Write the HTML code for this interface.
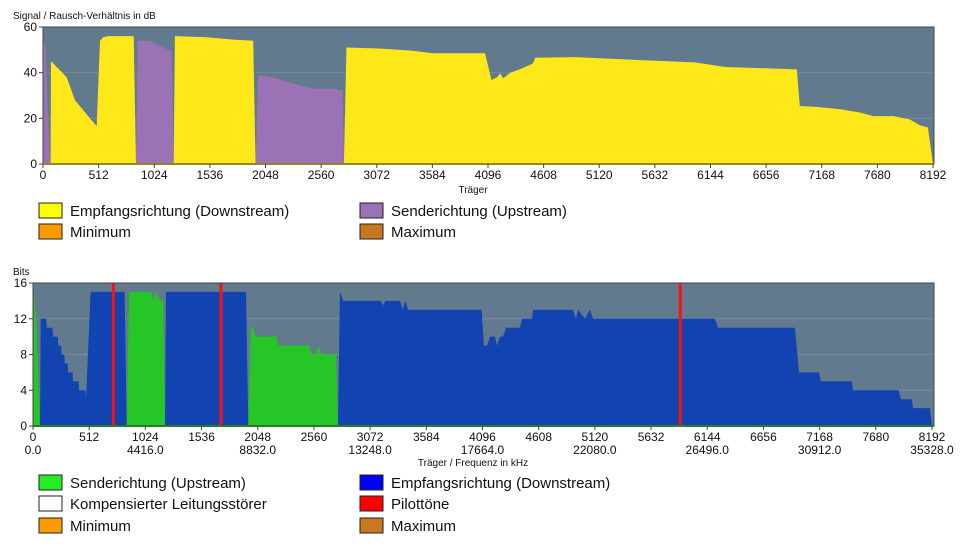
<!DOCTYPE html>
<html><head><meta charset="utf-8">
<style>
html,body{margin:0;padding:0;background:#fff;width:963px;height:548px;overflow:hidden;font-family:"Liberation Sans",sans-serif;}
svg text{font-family:"Liberation Sans",sans-serif;fill:#111;}
</style></head>
<body>
<svg id="c" width="963" height="548" xmlns="http://www.w3.org/2000/svg"></svg>
<script>
// ---- data (carrier, value) ----
const snrTicks = [0,20,40,60];
const xTicks = [0,512,1024,1536,2048,2560,3072,3584,4096,4608,5120,5632,6144,6656,7168,7680,8192];
const freqTicks = [0,1024,2048,3072,4096,5120,6144,7168,8192];
const bitsTicks = [0,4,8,12,16];
const snrUp = [[0,0],[2,54],[20,53],[64,0],[856,0],[872,54],[985,54],[1049,52.5],[1105,51],[1184,49.5],[1203,0],[1957,0],[1980,39],[2118,38],[2245,36],[2365,34.5],[2487,33],[2670,33],[2757,32],[2770,0]];
const snrDown = [[70,0],[74,45],[218,38],[294,28],[432,20],[494,16.5],[525,54],[552,55.5],[600,56],[835,56],[856,0],[1203,0],[1214,56],[1506,55.5],[1750,54.5],[1935,54],[1957,0],[2770,0],[2794,51],[3130,50.5],[3377,49.7],[3590,48.5],[4068,48.5],[4128,36.8],[4180,38],[4208,39.7],[4236,37.5],[4300,40],[4390,41.5],[4510,44],[4530,46.5],[4900,46.8],[5500,45.5],[6000,44.5],[6280,42.5],[6600,42],[6900,41.5],[6938,41.5],[6966,25.4],[7118,25],[7340,24],[7524,22.5],[7645,21],[7828,21],[7980,19.5],[8070,17],[8145,16],[8192,0]];
const bitsUp = [[0,0],[10,15],[30,12],[64,0],[854,0],[877,15],[1080,15],[1093,14],[1127,15],[1157,14],[1187,14],[1203,0],[1962,0],[1984,11],[2005,11],[2026,10],[2220,10],[2232,9],[2516,9],[2539,8],[2579,8],[2597,9],[2630,8],[2761,8],[2779,0]];
const bitsDown = [[64,0],[70,12],[120,12],[125,11],[178,11],[182,10],[226,10],[230,9],[256,9],[260,8],[286,8],[290,7],[316,7],[320,6],[361,6],[365,5],[416,5],[420,4],[478,4],[483,3],[525,15],[835,15],[854,0],[1203,0],[1212,15],[1941,15],[1962,0],[2779,0],[2797,15],[2828,14],[3168,14],[3192,13.5],[3210,14],[3344,14],[3371,13],[3390,14],[3420,13],[4088,13],[4109,9],[4137,9],[4164,10],[4210,10],[4228,9],[4255,10],[4283,10],[4310,11],[4438,11],[4456,12],[4547,12],[4556,13],[4920,13],[4948,12],[4966,13],[5030,12],[5075,13],[5103,12],[6214,12],[6242,11],[6943,11],[6980,6],[7162,6],[7180,5],[7463,5],[7472,4],[7890,4],[7909,3],[8010,3],[8019,2],[8174,2],[8192,0]];
const pilots = [732,1713,5898];

const NS='http://www.w3.org/2000/svg';
const svg=document.getElementById('c');
function mk(tag,attrs,parent){const e=document.createElementNS(NS,tag);for(const k in attrs)e.setAttribute(k,attrs[k]);(parent||svg).appendChild(e);return e;}
function txt(s,x,y,size,anchor,parent){const t=mk('text',{x:x,y:y,'font-size':size,'text-anchor':anchor||'start'},parent);t.textContent=s;return t;}

function chart(cfg){
  const g=mk('g',{});
  
  
  const L=cfg.L,R=cfg.R,T=cfg.T,B=cfg.B;
  const sx=v=>L+(v/8192)*(cfg.xEnd-L);
  const sy=v=>B-(v/cfg.ymax)*(B-T);
  const bg=mk('rect',{x:L,y:T,width:R-L,height:B-T,fill:'#627a8e'},g);
  
  
  cfg.yTicks.forEach(v=>{if(v>0&&v<cfg.ymax){const l=mk('line',{x1:L,x2:R,y1:sy(v),y2:sy(v),stroke:'#7589a0','stroke-width':1},g);
    
    }});
  cfg.series.forEach(s=>{
    let d='M'+sx(s.data[0][0])+','+sy(0);
    s.data.forEach(p=>{d+=' L'+sx(p[0]).toFixed(1)+','+sy(p[1]).toFixed(1);});
    d+=' L'+sx(s.data[s.data.length-1][0])+','+sy(0)+' Z';
    const p=mk('path',{d:d,fill:s.color},g);
    
    
  });
  (cfg.pilots||[]).forEach(c=>{const l=mk('rect',{x:sx(c)-1.5,y:T,width:3,height:B-T,fill:'#ff1010'},g);
    
    });
  const fr=mk('rect',{x:L,y:T,width:R-L,height:B-T,fill:'none',stroke:'#444','stroke-width':1},g);
  
  
  mk('line',{x1:L,x2:R,y1:B,y2:B,stroke:cfg.baseColor,'stroke-width':2},g);
  cfg.yTicks.forEach(v=>{mk('line',{x1:L-4,x2:L,y1:sy(v),y2:sy(v),stroke:'#444'},g);
    const t=txt(String(v),L-6,sy(v)+4,12,'end',g);
    
    });
  xTicks.forEach(v=>{mk('line',{x1:sx(v),x2:sx(v),y1:B,y2:B+4,stroke:'#444'},g);
    const t=txt(String(v),sx(v),B+15,12,'middle',g);
    
    });
  if(cfg.freq){freqTicks.forEach(v=>{const t=txt((v*4.3125).toFixed(1),sx(v),B+28,12,'middle',g);
    
    });}
  const yt=txt(cfg.yTitle,cfg.yTitleX,T-8,10,'start',g);
  
  
  const xt=txt(cfg.xTitle,cfg.xTitleX,cfg.xTitleY,10,'middle',g);
  
  
  xt.setAttribute('fill','#444');
}

chart({name:'snr-chart',L:43,R:934,T:27,B:164,xEnd:933,ymax:60,yTicks:snrTicks,baseColor:'#8a8a2a',
  series:[{name:'snr-upstream-area',data:snrUp,color:'#9b72b5'},{name:'snr-downstream-area',data:snrDown,color:'#ffe81a'}],
  yTitle:'Signal / Rausch-Verhältnis in dB',yTitleX:13,xTitle:'Träger',xTitleX:473,xTitleY:193});
chart({name:'bits-chart',L:33,R:934,T:283,B:426,xEnd:932,ymax:16,yTicks:bitsTicks,baseColor:'#2a7a2a',freq:true,pilots:pilots,
  series:[{name:'bits-upstream-area',data:bitsUp,color:'#26c626'},{name:'bits-downstream-area',data:bitsDown,color:'#1144b0'}],
  yTitle:'Bits',yTitleX:13,xTitle:'Träger / Frequenz in kHz',xTitleX:473,xTitleY:466});

function legend(items){
  items.forEach(it=>{
    const g=mk('g',{});
    
    
    mk('rect',{x:it.x,y:it.y-8,width:23,height:15,fill:it.color,stroke:'#222','stroke-width':1},g);
    const t=txt(it.label,it.x+31,it.y+5,15,'start',g);
    t.setAttribute('fill','#333');
  });
}
legend([
 {name:'legend-downstream',x:39,y:211,color:'#ffff00',label:'Empfangsrichtung (Downstream)'},
 {name:'legend-upstream',x:360,y:211,color:'#9b72b5',label:'Senderichtung (Upstream)'},
 {name:'legend-minimum',x:39,y:232,color:'#ff9900',label:'Minimum'},
 {name:'legend-maximum',x:360,y:232,color:'#c87820',label:'Maximum'},
 {name:'legend-bits-upstream',x:39,y:483,color:'#22ee22',label:'Senderichtung (Upstream)'},
 {name:'legend-bits-downstream',x:360,y:483,color:'#0000ff',label:'Empfangsrichtung (Downstream)'},
 {name:'legend-noise-compensation',x:39,y:504,color:'#ffffff',label:'Kompensierter Leitungsstörer'},
 {name:'legend-pilot-tones',x:360,y:504,color:'#ff0000',label:'Pilottöne'},
 {name:'legend-bits-minimum',x:39,y:526,color:'#ff9900',label:'Minimum'},
 {name:'legend-bits-maximum',x:360,y:526,color:'#c87820',label:'Maximum'}
]);
</script>
</body></html>
